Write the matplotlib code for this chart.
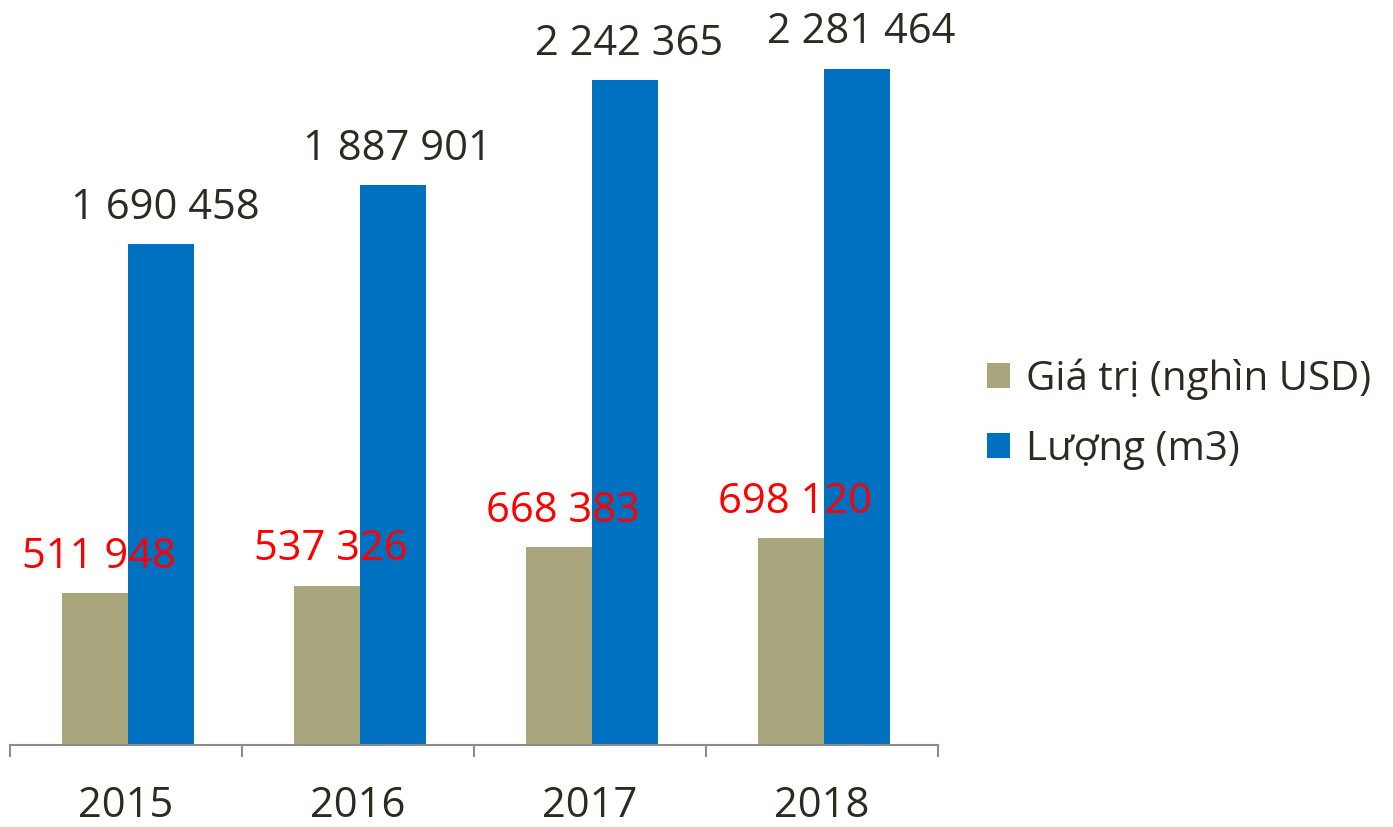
import matplotlib
matplotlib.use("Agg")
import matplotlib.pyplot as plt
import numpy as np

# Data
years = ["2015", "2016", "2017", "2018"]
gia_tri = [511948, 537326, 668383, 698120]        # nghin USD
luong = [1690458, 1887901, 2242365, 2281464]      # m3
series_names = ["Giá trị (nghìn USD)", "Lượng (m3)"]

tan = "#a9a57c"
blue = "#0070c0"
text_color = "#2d2a22"
grey = "#8c8c8c"

def fmt(v):
    return f"{v:,}".replace(",", " ")

plt.rcParams['font.family'] = ['Open Sans', 'DejaVu Sans']

fig = plt.figure(figsize=(13.93, 8.27), dpi=100)
ax = fig.add_axes([10 / 1393, (827 - 745) / 827, 928 / 1393, 741 / 827])

x = np.arange(len(years)) + 0.008
w = 0.2845
b1 = ax.bar(x - w / 2, gia_tri, w, color=tan, label=series_names[0], zorder=2)
b2 = ax.bar(x + w / 2, luong, w, color=blue, label=series_names[1], zorder=2)

for xi, v in zip(x, luong):
    ax.annotate(fmt(v), (xi + w / 2, v), xytext=(3, 11), textcoords="offset points",
                ha="center", va="bottom", fontsize=30, color=text_color, zorder=5)
for xi, v in zip(x, gia_tri):
    ax.annotate(fmt(v), (xi - w / 2, v), xytext=(3, 11), textcoords="offset points",
                ha="center", va="bottom", fontsize=30, color="#ff0000", zorder=5)

ax.set_xlim(-0.5, 3.5)
ax.set_ylim(0, 2500000)
ax.set_xticks(np.arange(len(years)))
ax.set_xticklabels(years, fontsize=30, color=text_color)
ax.tick_params(axis="x", which="major", length=0, pad=29)
ax.set_xticks(np.arange(-0.5, 4.0, 1.0), minor=True)
ax.tick_params(axis="x", which="minor", length=8.5, width=1.5, color=grey, direction="out")
ax.set_yticks([])
for s in ["top", "right", "left"]:
    ax.spines[s].set_visible(False)
ax.spines["bottom"].set_color(grey)
ax.spines["bottom"].set_linewidth(1.5)

leg = fig.legend(handles=[b1, b2], loc="center left", bbox_to_anchor=(951 / 1393, 1 - 414 / 827),
                 frameon=False, fontsize=29, handlelength=0.57, handleheight=0.57,
                 handletextpad=0.4, labelspacing=0.72, labelcolor=text_color)

fig.savefig("out.png", dpi=100)
